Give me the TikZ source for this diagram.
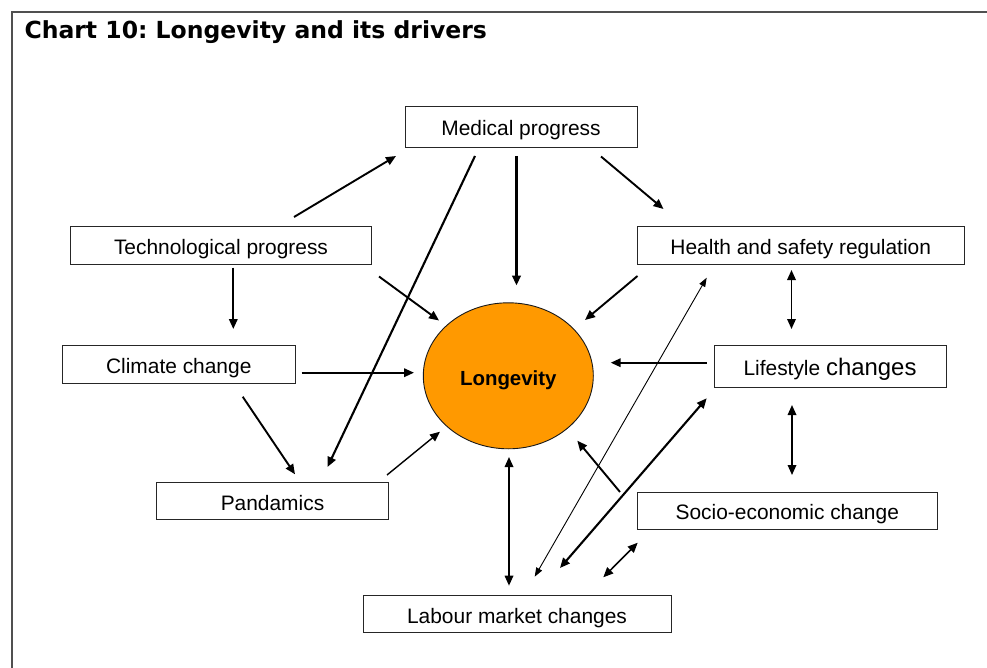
\documentclass[tikz,border=0pt]{standalone}
\usepackage{fontspec}
\setmainfont{Liberation Sans}
\newfontfamily\titlefont{DejaVu Sans}
\usetikzlibrary{arrows.meta,shapes.geometric}
\definecolor{frame}{HTML}{505050}
\definecolor{longev}{HTML}{FF9900}
\tikzset{
  box/.style={draw=black!85, line width=0.9bp, inner sep=0pt, text height=18.5bp, text depth=0bp,
              font=\fontsize{21}{24}\selectfont},
  arr/.style={line width=1.9bp, -{Triangle[length=10bp,width=8.5bp]}},
  darr/.style={line width=1.7bp, {Triangle[length=10bp,width=8.5bp]}-{Triangle[length=10bp,width=8.5bp]}},
  tdarr/.style={line width=0.9bp, {Triangle[length=9bp,width=6.5bp]}-{Triangle[length=9bp,width=6.5bp]}}
}
\begin{document}
\begin{tikzpicture}[x=1bp,y=-1bp]
\useasboundingbox (0,0) rectangle (987,668);
\fill[white] (0,0) rectangle (987,668);
\draw[frame, line width=1.5bp] (12,668) -- (12,12) -- (987,12);
\node[anchor=base west, font=\titlefont\bfseries\fontsize{23.6}{26}\selectfont\frenchspacing] (title) at (21,38.5) {Chart 10: Longevity and its drivers};

% boxes
\node[box, minimum width=232bp, minimum height=41bp] (med) at (521,126.5) {Medical progress};
\node[box, minimum width=301bp, minimum height=38bp] (tech) at (221,245) {Technological progress};
\node[box, minimum width=326.5bp, minimum height=37.5bp] (health) at (800.75,245.25) {Health and safety regulation};
\node[box, minimum width=232.5bp, minimum height=37.6bp] (climate) at (178.75,364.5) {Climate change};
\node[box, minimum width=232bp, minimum height=41.6bp] (life) at (830,366.5) {Lifestyle {\fontsize{24}{26}\selectfont changes}};
\node[box, minimum width=232bp, minimum height=36.6bp] (pand) at (272.5,501) {Pandamics};
\node[box, minimum width=299.3bp, minimum height=37.5bp] (socio) at (787.3,510.7) {Socio-economic change};
\node[box, minimum width=308bp, minimum height=37bp] (labour) at (517,613.8) {Labour market changes};

% ellipse
\node[ellipse, draw=black!90, line width=0.9bp, fill=longev, minimum width=170bp, minimum height=146bp, inner sep=0pt,
      text height=18.5bp, text depth=0bp, font=\bfseries\fontsize{20.5}{24}\selectfont] (lon) at (508.3,375.8) {Longevity};

% connector end points
\coordinate (a1s) at (294,217);   \coordinate (a1e) at (396,156);
\coordinate (a2s) at (475,156);   \coordinate (a2e) at (327.5,467);
\coordinate (a3s) at (516.5,156); \coordinate (a3e) at (516.5,285.5);
\coordinate (a4s) at (601,156.5); \coordinate (a4e) at (663.5,209);
\coordinate (a5s) at (379,276.5); \coordinate (a5e) at (439,320.5);
\coordinate (a6s) at (637.5,276); \coordinate (a6e) at (585,320);
\coordinate (a7s) at (233.3,267.7); \coordinate (a7e) at (233.3,329);
\coordinate (a8s) at (301.7,372.7); \coordinate (a8e) at (414,372.7);
\coordinate (a9s) at (706.7,362.7); \coordinate (a9e) at (610.7,362.7);
\coordinate (a10s) at (791.5,270); \coordinate (a10e) at (791.5,329);
\coordinate (a11s) at (792,405);   \coordinate (a11e) at (792,475);
\coordinate (a12s) at (242.7,396.7); \coordinate (a12e) at (295,474.3);
\coordinate (a13s) at (387,475);   \coordinate (a13e) at (440,431.7);
\coordinate (a14s) at (509,457);   \coordinate (a14e) at (509,585.7);
\coordinate (a15s) at (620,492);   \coordinate (a15e) at (577.3,440.7);
\coordinate (a16s) at (534.7,576.7); \coordinate (a16e) at (706.7,277.7);
\coordinate (a17s) at (560,568);   \coordinate (a17e) at (706.7,398.3);
\coordinate (a18s) at (603.3,577.3); \coordinate (a18e) at (637.7,542.7);

\draw[arr] (a1s) -- (a1e);
\draw[arr, line width=2.1bp] (a2s) -- (a2e);
\draw[arr, line width=2.5bp] (a3s) -- (a3e);
\draw[arr] (a4s) -- (a4e);
\draw[arr] (a5s) -- (a5e);
\draw[arr] (a6s) -- (a6e);
\draw[arr] (a7s) -- (a7e);
\draw[arr] (a8s) -- (a8e);
\draw[arr] (a9s) -- (a9e);
\draw[darr] (a10s) -- (a10e);
\draw[darr] (a11s) -- (a11e);
\draw[arr] (a12s) -- (a12e);
\draw[arr, line width=1.4bp] (a13s) -- (a13e);
\draw[darr] (a14s) -- (a14e);
\draw[arr] (a15s) -- (a15e);
\draw[tdarr] (a16s) -- (a16e);
\draw[darr, line width=2.1bp] (a17s) -- (a17e);
\draw[darr, line width=1.5bp] (a18s) -- (a18e);
\end{tikzpicture}
\end{document}
